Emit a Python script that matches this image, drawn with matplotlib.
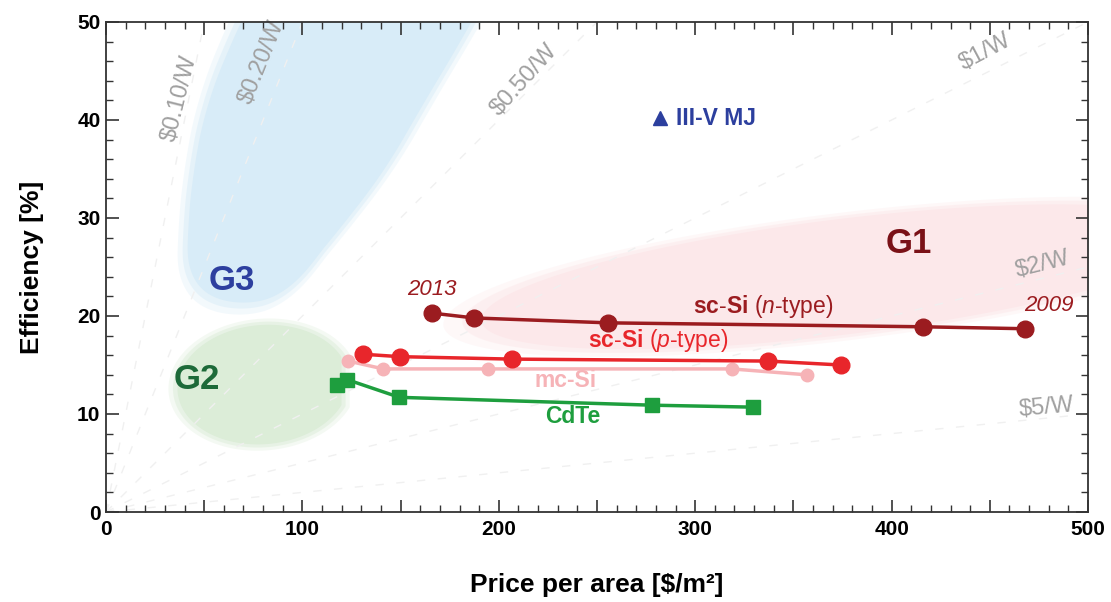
import numpy as np
import matplotlib
matplotlib.use('Agg')
import matplotlib.pyplot as plt
from matplotlib.ticker import MultipleLocator, FuncFormatter

plt.rcParams['font.family'] = ['Liberation Sans', 'DejaVu Sans']
plt.rcParams['mathtext.fontset'] = 'custom'
plt.rcParams['mathtext.rm'] = 'Liberation Sans'
plt.rcParams['mathtext.it'] = 'Liberation Sans:italic'
plt.rcParams['mathtext.bf'] = 'Liberation Sans:bold'

# Data: price per area [$/m2], efficiency [%]
nsi_price = [165.8, 187.4, 255.8, 415.8, 468.0]
nsi_eff = [20.3, 19.8, 19.3, 18.9, 18.7]
psi_price = [130.7, 149.7, 206.6, 337.2, 374.2]
psi_eff = [16.1, 15.85, 15.6, 15.4, 15.0]
mcsi_price = [123.4, 141.2, 194.5, 318.6, 356.7]
mcsi_eff = [15.4, 14.6, 14.6, 14.6, 14.0]
cdte_price = [117.4, 122.9, 149.4, 277.8, 329.2]
cdte_eff = [13.0, 13.5, 11.7, 10.9, 10.7]
mj_price = [282]
mj_eff = [40.2]

# iso-cost lines ($/W) and where their labels sit
cost_values = [0.10, 0.20, 0.50, 1, 2, 5]
cost_labels = ['$0.10/W', '$0.20/W', '$0.50/W', '$1/W', '$2/W', '$5/W']
cost_label_pos = [(37.7, 42.2), (79.4, 45.9), (213, 44.1), (447.6, 46.9), (476.6, 25.2), (479, 10.6)]
cost_label_rot = [76, 68, 48, 28, 14, 5]

# outline of the G3 region (left and right edges, efficiency -> price)
g3_edge_y = [23.5, 28.5, 35, 42, 49, 56]
g3_left_x = [38.7, 38.9, 42, 49, 63, 80]
g3_right_x = [99, 120, 145, 165, 186, 205]

C_N = '#9b1c20'
C_P = '#e8262b'
C_MC = '#f6b3b7'
C_CD = '#1e9e3e'
C_MJ = '#2c3f9e'
GRAY = '#a0a0a0'

fig = plt.figure(figsize=(11.11, 6.02), dpi=100)
ax = fig.add_axes([0.0954, 0.1495, 0.8839, 0.814])
ax.set_xlim(0, 500)
ax.set_ylim(0, 50)

# y units look ~5x x units on screen
K = 5.0


def soft_fill(xs, ys, cx, cy, color):
    # faint outer rings and a solid core, scaled about (cx, cy) in screen-like space
    for s, al in [(1.05, 0.3), (1.0, 0.5), (0.95, 1.0)]:
        ax.fill(cx + (xs - cx) * s, (cy * K + (ys * K - cy * K) * s) / K,
                lw=0, alpha=al, zorder=0, color=color)


def ellipse(cx, cy, a, b, ang, xmax=None):
    t = np.linspace(0, 2 * np.pi, 200)
    th = np.radians(ang)
    xs = cx + a * np.cos(t) * np.cos(th) - b * np.sin(t) * np.sin(th)
    ys = (cy * K + a * np.cos(t) * np.sin(th) + b * np.sin(t) * np.cos(th)) / K
    if xmax is not None:
        xs = np.minimum(xs, xmax)
    return xs, ys


def smooth_outline(xs, ys, n=600, win=45):
    # resample evenly in screen-like space, then round the corners
    X, Y = np.asarray(xs), np.asarray(ys) * K
    d = np.r_[0, np.cumsum(np.hypot(np.diff(X), np.diff(Y)))]
    s = np.linspace(0, d[-1], n)
    X, Y = np.interp(s, d, X), np.interp(s, d, Y)
    ker = np.ones(win) / win
    Xp = np.r_[X[-win:], X, X[:win]]
    Yp = np.r_[Y[-win:], Y, Y[:win]]
    X = np.convolve(Xp, ker, 'same')[win:-win]
    Y = np.convolve(Yp, ker, 'same')[win:-win]
    return X, Y / K


# G3: opens upward with a blunt bottom
yy = np.linspace(g3_edge_y[0], g3_edge_y[-1], 50)
lx = np.interp(yy, g3_edge_y, g3_left_x)
rx = np.interp(yy, g3_edge_y, g3_right_x)
t = np.linspace(np.pi, 2 * np.pi, 60)
mid, half = (lx[0] + rx[0]) / 2, (rx[0] - lx[0]) / 2
g3_x = np.concatenate([mid + half * np.cos(t), rx, lx[::-1]])
g3_y = np.concatenate([yy[0] + 3.0 * np.sin(t), yy, yy[::-1]])
g3_x, g3_y = smooth_outline(g3_x, g3_y)
soft_fill(g3_x, g3_y, 90, 33, '#d8ecf8')

gx, gy = ellipse(80, 13, 46, 32, 5, xmax=122)
soft_fill(gx, gy, 80, 13, '#dcedd8')
px_, py_ = ellipse(375, 24.0, 195, 31, 7)
soft_fill(px_, py_, 375, 24.0, '#fce8ea')

# iso-cost dashed guide lines (very faint)
px = np.linspace(0, 500, 200)
for c in cost_values:
    ax.plot(px, px / (10 * c), ls=(0, (6, 9)), color='#f0f0f0', lw=1, zorder=1)
for lab, (lx_, ly_), r in zip(cost_labels, cost_label_pos, cost_label_rot):
    ax.text(lx_, ly_, lab, color=GRAY, fontsize=17, rotation=r,
            ha='center', va='center', zorder=2)

ax.plot(mcsi_price, mcsi_eff, '-o', color=C_MC, lw=2.5, ms=9, zorder=3)
ax.plot(psi_price, psi_eff, '-o', color=C_P, lw=2.5, ms=12, zorder=4)
ax.plot(nsi_price, nsi_eff, '-o', color=C_N, lw=2.5, ms=12, zorder=4)
ax.plot(cdte_price, cdte_eff, '-s', color=C_CD, lw=2.5, ms=10, zorder=4)
ax.plot(mj_price, mj_eff, '^', color=C_MJ, ms=10, zorder=4)

ax.text(290, 40.2, 'III-V MJ', color=C_MJ, fontsize=16.5, fontweight='bold',
        ha='left', va='center')
ax.text(166, 22.7, '2013', color=C_N, fontsize=16, style='italic', ha='center', va='center')
ax.text(480, 21.1, '2009', color=C_N, fontsize=16, style='italic', ha='center', va='center')
ax.text(334.5, 21.0, r'$\mathbf{sc}$-$\mathbf{Si}$ ($\mathit{n}$-type)', color=C_N,
        fontsize=16.5, ha='center', va='center')
ax.text(281, 17.45, r'$\mathbf{sc}$-$\mathbf{Si}$ ($\mathit{p}$-type)', color=C_P,
        fontsize=16.5, ha='center', va='center')
ax.text(234, 13.4, 'mc-Si', color=C_MC, fontsize=16.5, fontweight='bold', ha='center', va='center')
ax.text(237.8, 9.7, 'CdTe', color=C_CD, fontsize=16.5, fontweight='bold', ha='center', va='center')
ax.text(409, 27.4, 'G1', color='#7a1117', fontsize=25, fontweight='bold', ha='center', va='center')
ax.text(64, 23.6, 'G3', color='#2d3f9f', fontsize=25, fontweight='bold', ha='center', va='center')
ax.text(46, 13.5, 'G2', color='#1d6a39', fontsize=25, fontweight='bold', ha='center', va='center')

# axes styling
ax.xaxis.set_major_locator(MultipleLocator(50))
ax.xaxis.set_minor_locator(MultipleLocator(10))
ax.xaxis.set_major_formatter(FuncFormatter(lambda v, p: '%d' % v if v % 100 == 0 else ''))
ax.yaxis.set_major_locator(MultipleLocator(10))
ax.yaxis.set_minor_locator(MultipleLocator(2))
ax.tick_params(which='both', direction='in', top=True, right=True, color='#333333')
ax.tick_params(which='major', length=9, width=1.2)
ax.tick_params(which='minor', length=5, width=1)
ax.tick_params(axis='x', pad=6)
ax.tick_params(axis='y', pad=4)
for sp in ax.spines.values():
    sp.set_color('#333333')
    sp.set_linewidth(1.3)

for lbl in ax.get_xticklabels() + ax.get_yticklabels():
    lbl.set_fontweight('bold')
    lbl.set_fontsize(15)

ax.set_xlabel('Price per area [$/m²]', fontsize=19, fontweight='bold', labelpad=24)
ax.set_ylabel('Efficiency [%]', fontsize=19, fontweight='bold', labelpad=24)

fig.savefig('out.png', dpi=100)
